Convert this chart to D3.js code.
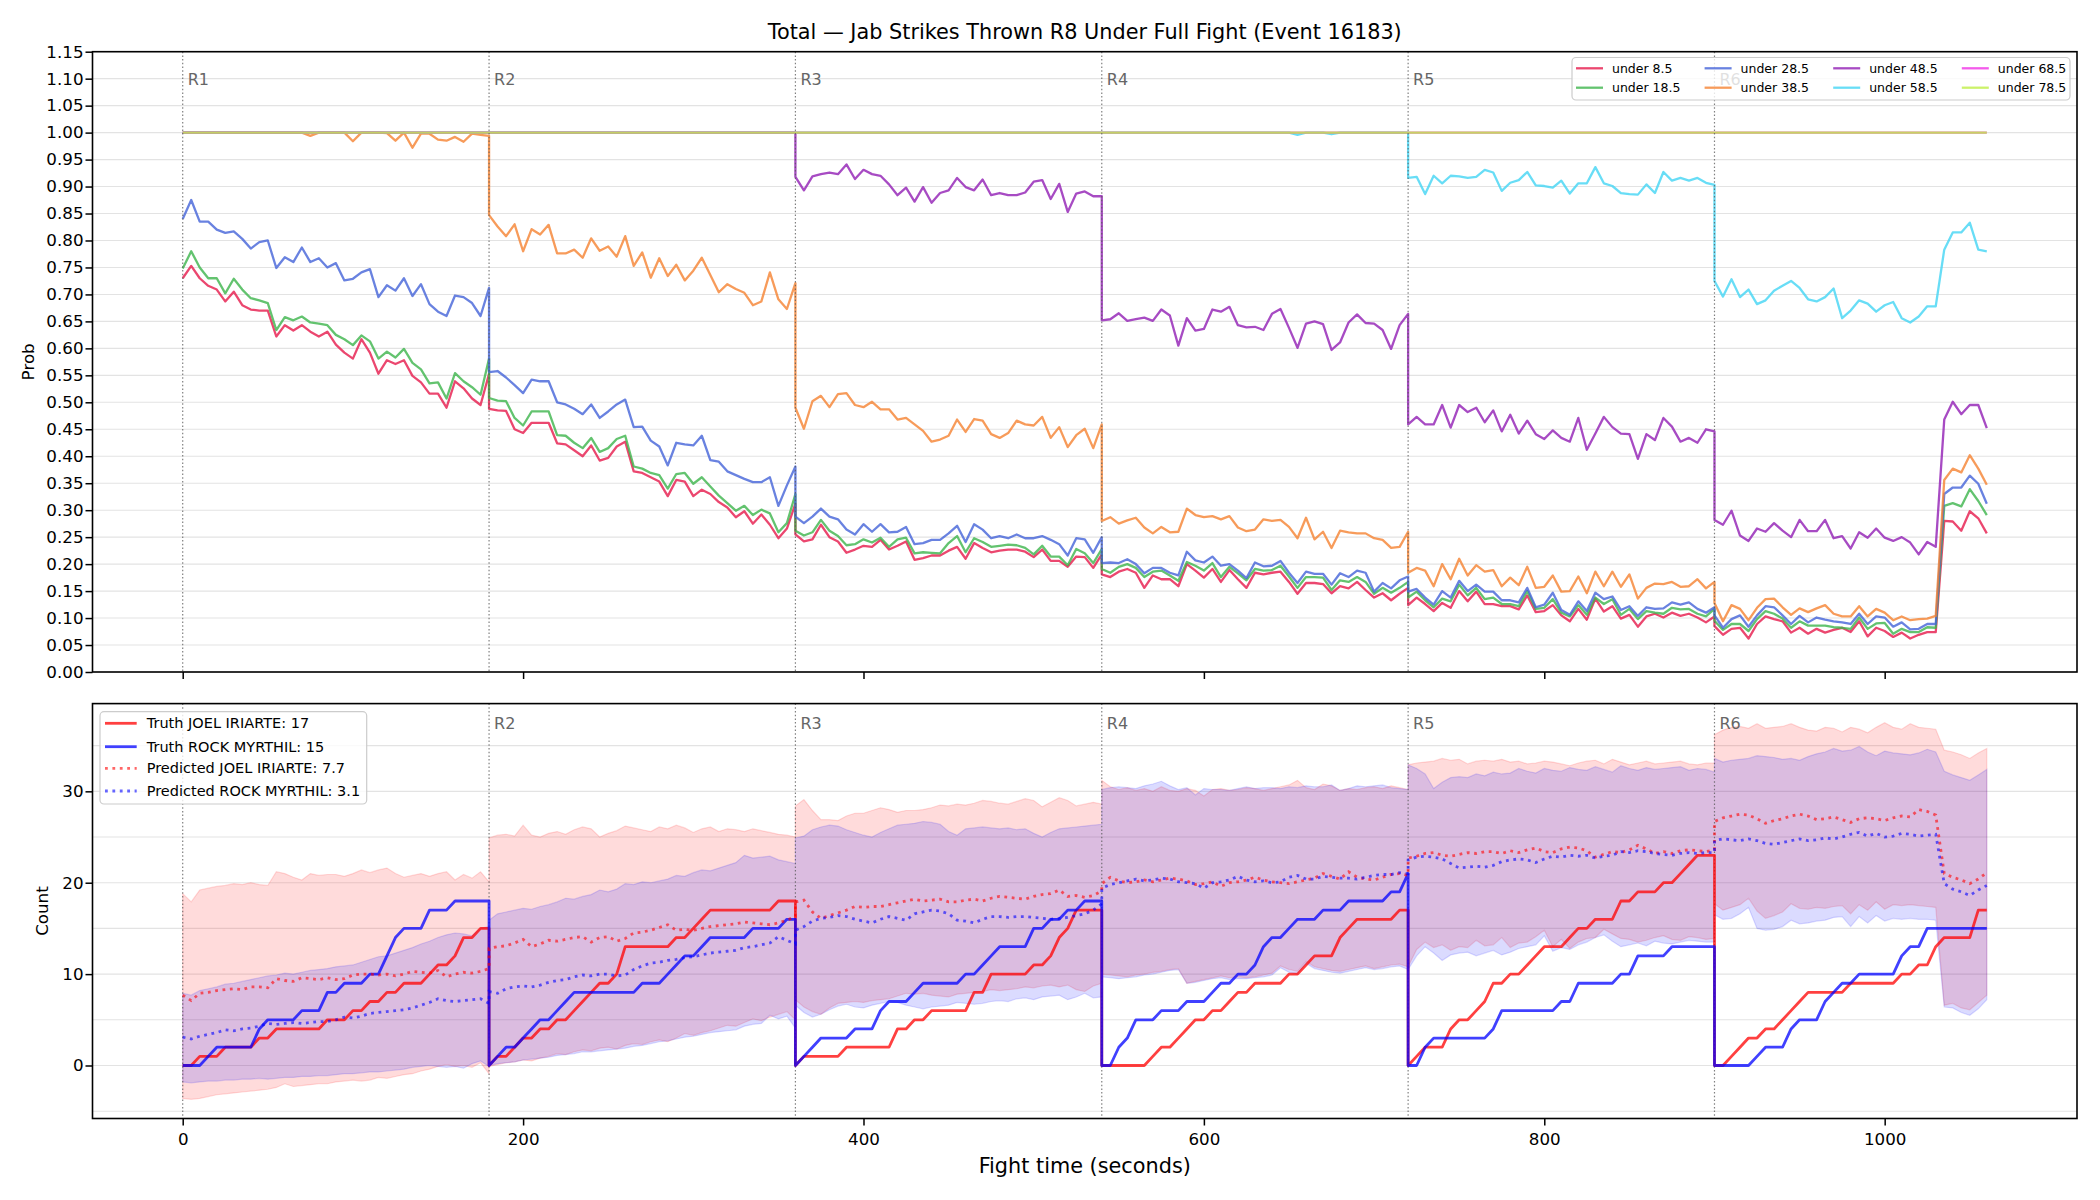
<!DOCTYPE html>
<html>
<head>
<meta charset="utf-8">
<script src="https://d3js.org/d3.v7.min.js"></script>
<style>
  body { margin: 0; background: #fff; }
  svg { font-family: "DejaVu Sans", sans-serif; }
</style>
</head>
<body>
<svg id="chart" width="2100" height="1200"></svg>
<script>
// ---------- data ----------
const roundStarts = [0, 180, 360, 540, 720, 900];
const roundNames = ["R1", "R2", "R3", "R4", "R5", "R6"];
const stepSec = 5;
const xTicks = [0, 200, 400, 600, 800, 1000];
const probTicks = [0, 0.05, 0.1, 0.15, 0.2, 0.25, 0.3, 0.35, 0.4, 0.45, 0.5, 0.55, 0.6, 0.65, 0.7, 0.75, 0.8, 0.85, 0.9, 0.95, 1.0, 1.05, 1.1, 1.15];
const countTicks = [0, 10, 20, 30];
const countGrid = [-5, 0, 5, 10, 15, 20, 25, 30, 35];

const lineNames = ["under 8.5", "under 18.5", "under 28.5", "under 38.5", "under 48.5", "under 58.5", "under 68.5", "under 78.5"];
const lineColors = ["#e6194b", "#3cb44b", "#4363d8", "#f58231", "#911eb4", "#42d4f4", "#f032e6", "#bfef45"];

// probability lines, one array per round (5 s steps)
const under8 = [
  [.73,.753,.73,.716,.709,.687,.705,.68,.672,.67,.67,.622,.643,.633,.643,.631,.622,.631,.607,.592,.581,.617,.592,.553,.578,.571,.578,.549,.537,.516,.516,.49,.539,.526,.507,.495,.553],
  [.488,.485,.484,.45,.443,.462,.462,.462,.424,.422,.411,.4,.42,.392,.397,.418,.427,.372,.369,.361,.353,.326,.356,.353,.326,.338,.33,.315,.305,.287,.298,.275,.292,.273,.248,.266,.312],
  [.255,.242,.246,.273,.25,.242,.221,.227,.234,.232,.245,.227,.234,.242,.208,.211,.216,.216,.225,.232,.21,.239,.23,.222,.225,.227,.227,.223,.213,.227,.206,.206,.195,.214,.213,.193,.218],
  [.181,.176,.186,.191,.184,.156,.179,.172,.172,.159,.2,.188,.175,.191,.167,.189,.172,.156,.184,.181,.184,.186,.167,.145,.165,.165,.163,.146,.159,.155,.167,.152,.138,.146,.133,.145,.156],
  [.124,.138,.126,.113,.128,.119,.15,.131,.149,.126,.126,.122,.122,.116,.142,.111,.113,.124,.105,.094,.117,.097,.136,.112,.122,.099,.106,.084,.103,.108,.101,.11,.104,.108,.101,.092,.103],
  [.085,.069,.08,.082,.062,.089,.103,.098,.094,.073,.082,.071,.08,.073,.078,.082,.074,.094,.066,.082,.076,.065,.073,.062,.069,.074,.074,.28,.279,.262,.298,.285,.257]
];
const under18 = [
  [.748,.78,.75,.73,.73,.702,.729,.709,.693,.689,.684,.634,.658,.652,.659,.648,.646,.643,.625,.617,.606,.624,.613,.581,.594,.583,.599,.573,.561,.535,.537,.507,.554,.539,.528,.514,.581],
  [.508,.503,.502,.471,.457,.483,.483,.483,.439,.438,.425,.415,.434,.408,.415,.432,.438,.381,.377,.369,.365,.34,.367,.369,.349,.361,.344,.327,.313,.299,.308,.291,.301,.294,.259,.276,.33],
  [.262,.253,.259,.282,.262,.252,.235,.237,.246,.24,.249,.232,.246,.249,.22,.222,.221,.22,.239,.252,.222,.248,.241,.232,.234,.236,.235,.23,.218,.234,.214,.214,.198,.228,.22,.202,.228],
  [.191,.184,.195,.2,.193,.176,.186,.188,.179,.169,.204,.197,.188,.202,.176,.195,.183,.17,.191,.188,.189,.197,.177,.156,.176,.176,.175,.152,.17,.167,.176,.167,.145,.156,.147,.156,.167],
  [.138,.149,.133,.12,.136,.131,.162,.142,.156,.135,.138,.126,.126,.122,.15,.117,.119,.135,.11,.103,.124,.106,.138,.126,.135,.106,.117,.098,.113,.11,.108,.119,.116,.117,.108,.103,.117],
  [.095,.078,.089,.089,.076,.098,.113,.108,.099,.082,.094,.086,.086,.086,.083,.082,.08,.101,.08,.09,.091,.071,.08,.074,.074,.083,.082,.308,.313,.307,.339,.317,.291]
];
const under28 = [
  [.84,.875,.835,.835,.82,.814,.817,.803,.785,.797,.8,.749,.769,.76,.787,.76,.767,.75,.758,.726,.729,.741,.747,.695,.717,.707,.73,.697,.719,.682,.668,.66,.698,.695,.684,.66,.712],
  [.556,.558,.546,.532,.517,.542,.539,.539,.5,.496,.488,.478,.496,.471,.483,.496,.505,.454,.455,.429,.418,.383,.425,.422,.42,.438,.393,.39,.372,.365,.358,.352,.352,.361,.308,.346,.381],
  [.288,.276,.288,.303,.288,.283,.264,.255,.274,.26,.274,.259,.26,.269,.237,.239,.245,.245,.257,.271,.241,.274,.264,.248,.252,.248,.255,.248,.248,.252,.245,.237,.216,.248,.246,.221,.25],
  [.202,.203,.202,.209,.2,.183,.193,.193,.184,.179,.223,.207,.203,.214,.197,.2,.188,.174,.203,.196,.197,.206,.184,.165,.186,.182,.182,.162,.183,.176,.188,.184,.149,.165,.155,.17,.177],
  [.149,.154,.138,.125,.15,.138,.169,.15,.162,.149,.149,.133,.133,.129,.156,.12,.125,.147,.115,.106,.131,.113,.147,.135,.14,.115,.122,.104,.12,.117,.118,.129,.125,.129,.117,.11,.12],
  [.105,.082,.098,.105,.084,.105,.122,.12,.105,.089,.104,.092,.101,.097,.094,.092,.089,.108,.089,.103,.101,.084,.092,.079,.08,.089,.089,.33,.342,.342,.364,.349,.312]
];
const under38 = [
  [1,1,1,1,1,1,1,1,1,1,1,1,1,1,1,.994,1,1,1,1,.984,1,1,1,.999,.985,1,.972,.998,.998,.987,.985,.992,.983,.998,.996,.994],
  [.847,.826,.808,.83,.78,.821,.811,.829,.776,.776,.783,.768,.804,.781,.789,.77,.808,.753,.778,.731,.767,.734,.755,.726,.744,.768,.736,.704,.719,.71,.703,.68,.687,.741,.691,.673,.721],
  [.49,.451,.502,.512,.491,.515,.517,.495,.491,.501,.487,.487,.468,.471,.459,.447,.427,.431,.438,.468,.445,.469,.466,.441,.434,.443,.466,.459,.457,.473,.434,.454,.417,.439,.451,.415,.459],
  [.28,.287,.275,.281,.286,.268,.257,.269,.259,.26,.303,.291,.287,.289,.283,.289,.268,.261,.264,.283,.28,.282,.269,.248,.286,.246,.26,.23,.262,.259,.257,.257,.248,.245,.23,.232,.26],
  [.184,.193,.188,.159,.2,.172,.21,.179,.198,.186,.189,.159,.175,.161,.195,.156,.158,.179,.149,.15,.177,.146,.186,.159,.186,.158,.181,.136,.156,.164,.163,.167,.158,.159,.172,.155,.167],
  [.128,.094,.124,.117,.096,.119,.135,.136,.12,.106,.118,.111,.118,.124,.108,.103,.103,.122,.103,.117,.11,.096,.103,.096,.098,.099,.104,.356,.377,.37,.402,.377,.347]
];
const under48 = [
  [1,1,1,1,1,1,1,1,1,1,1,1,1,1,1,1,1,1,1,1,1,1,1,1,1,1,1,1,1,1,1,1,1,1,1,1,1],
  [1,1,1,1,1,1,1,1,1,1,1,1,1,1,1,1,1,1,1,1,1,1,1,1,1,1,1,1,1,1,1,1,1,1,1,1,1],
  [.918,.893,.919,.923,.926,.923,.941,.914,.931,.923,.92,.904,.884,.898,.872,.899,.87,.888,.893,.916,.899,.893,.913,.884,.888,.884,.884,.889,.909,.912,.877,.905,.853,.887,.891,.882,.882],
  [.652,.654,.665,.651,.654,.657,.651,.672,.661,.605,.656,.633,.636,.672,.668,.677,.643,.639,.64,.634,.664,.673,.638,.601,.646,.65,.645,.597,.611,.648,.663,.647,.646,.634,.599,.643,.664],
  [.459,.473,.459,.459,.495,.453,.495,.482,.49,.463,.485,.446,.477,.442,.466,.441,.432,.448,.434,.427,.471,.412,.442,.473,.454,.442,.441,.395,.441,.43,.471,.455,.427,.434,.425,.45,.446],
  [.282,.273,.299,.253,.243,.266,.26,.276,.262,.25,.282,.261,.261,.282,.248,.252,.229,.259,.249,.266,.249,.243,.25,.24,.218,.241,.232,.468,.501,.478,.495,.495,.452]
];
const under58 = [
  [1,1,1,1,1,1,1,1,1,1,1,1,1,1,1,1,1,1,1,1,1,1,1,1,1,1,1,1,1,1,1,1,1,1,1,1,1],
  [1,1,1,1,1,1,1,1,1,1,1,1,1,1,1,1,1,1,1,1,1,1,1,1,1,1,1,1,1,1,1,1,1,1,1,1,1],
  [1,1,1,1,1,1,1,1,1,1,1,1,1,1,1,1,1,1,1,1,1,1,1,1,1,1,1,1,1,1,1,1,1,1,1,1,1],
  [1,1,1,1,1,1,1,1,1,1,1,1,1,1,1,1,1,1,1,1,1,1,1,.996,1,1,1,.997,1,1,1,1,1,1,1,1,1],
  [.916,.918,.886,.92,.906,.92,.919,.916,.918,.931,.926,.892,.907,.912,.927,.902,.901,.898,.911,.887,.906,.906,.936,.906,.901,.888,.886,.885,.904,.888,.927,.911,.916,.911,.916,.907,.903],
  [.725,.696,.728,.695,.709,.682,.689,.707,.716,.725,.712,.691,.687,.695,.711,.656,.67,.689,.683,.668,.68,.686,.656,.648,.659,.678,.678,.783,.815,.815,.833,.783,.78]
];
const under68 = [
  [1,1,1,1,1,1,1,1,1,1,1,1,1,1,1,1,1,1,1,1,1,1,1,1,1,1,1,1,1,1,1,1,1,1,1,1,1],
  [1,1,1,1,1,1,1,1,1,1,1,1,1,1,1,1,1,1,1,1,1,1,1,1,1,1,1,1,1,1,1,1,1,1,1,1,1],
  [1,1,1,1,1,1,1,1,1,1,1,1,1,1,1,1,1,1,1,1,1,1,1,1,1,1,1,1,1,1,1,1,1,1,1,1,1],
  [1,1,1,1,1,1,1,1,1,1,1,1,1,1,1,1,1,1,1,1,1,1,1,1,1,1,1,1,1,1,1,1,1,1,1,1,1],
  [1,1,1,1,1,1,1,1,1,1,1,1,1,1,1,1,1,1,1,1,1,1,1,1,1,1,1,1,1,1,1,1,1,1,1,1,1],
  [1,1,1,1,1,1,1,1,1,1,1,1,1,1,1,1,1,1,1,1,1,1,1,1,1,1,1,1,1,1,1,1,1]
];
const under78 = [
  [1,1,1,1,1,1,1,1,1,1,1,1,1,1,1,1,1,1,1,1,1,1,1,1,1,1,1,1,1,1,1,1,1,1,1,1,1],
  [1,1,1,1,1,1,1,1,1,1,1,1,1,1,1,1,1,1,1,1,1,1,1,1,1,1,1,1,1,1,1,1,1,1,1,1,1],
  [1,1,1,1,1,1,1,1,1,1,1,1,1,1,1,1,1,1,1,1,1,1,1,1,1,1,1,1,1,1,1,1,1,1,1,1,1],
  [1,1,1,1,1,1,1,1,1,1,1,1,1,1,1,1,1,1,1,1,1,1,1,1,1,1,1,1,1,1,1,1,1,1,1,1,1],
  [1,1,1,1,1,1,1,1,1,1,1,1,1,1,1,1,1,1,1,1,1,1,1,1,1,1,1,1,1,1,1,1,1,1,1,1,1],
  [1,1,1,1,1,1,1,1,1,1,1,1,1,1,1,1,1,1,1,1,1,1,1,1,1,1,1,1,1,1,1,1,1]
];

// count panel
const fighterNames = ["JOEL IRIARTE", "ROCK MYRTHIL"];
const truthFinal = [17, 15];
const predictedStart = [7.7, 3.1];

const truthJoel = [
  [0,0,1,1,1,2,2,2,2,3,3,4,4,4,4,4,4,5,5,5,6,6,7,7,8,8,9,9,9,10,11,11,12,14,14,15,15],
  [0,1,1,2,3,3,4,4,5,5,6,7,8,9,9,10,13,13,13,13,13,13,14,14,15,16,17,17,17,17,17,17,17,17,18,18,18],
  [0,1,1,1,1,1,2,2,2,2,2,2,4,4,5,5,6,6,6,6,6,8,8,10,10,10,10,10,11,11,12,14,15,17,17,17,17],
  [0,0,0,0,0,0,1,2,2,3,4,5,5,6,6,7,8,8,9,9,9,9,10,10,11,12,12,12,14,15,16,16,16,16,16,17,17],
  [0,1,2,2,2,4,5,5,6,7,9,9,10,10,11,12,13,13,13,14,15,15,16,16,16,18,18,19,19,19,20,20,21,22,23,23,23],
  [0,0,1,2,3,3,4,4,5,6,7,8,8,8,8,8,9,9,9,9,9,9,10,10,11,11,13,14,14,14,14,17,17]
];
const truthRock = [
  [0,0,0,1,2,2,2,2,2,4,5,5,5,5,6,6,6,8,8,9,9,9,10,10,12,14,15,15,15,17,17,17,18,18,18,18,18],
  [0,1,2,2,3,4,5,5,6,7,8,8,8,8,8,8,8,8,9,9,9,10,11,12,12,13,14,14,14,14,14,15,15,15,15,16,16],
  [0,1,2,3,3,3,3,4,4,4,6,7,7,7,8,9,9,9,9,9,10,10,11,12,13,13,13,13,15,15,16,16,17,17,18,18,18],
  [0,0,2,3,5,5,5,6,6,6,7,7,7,8,9,9,10,10,11,13,14,14,15,16,16,16,17,17,17,18,18,18,18,18,19,19,21],
  [0,0,2,3,3,3,3,3,3,3,4,6,6,6,6,6,6,6,7,7,9,9,9,9,9,10,10,12,12,12,12,13,13,13,13,13,13],
  [0,0,0,0,0,1,2,2,2,4,5,5,5,7,8,9,9,10,10,10,10,10,12,13,13,15,15,15,15,15,15,15,15]
];
const predJoel = [
  [7.7,7.1,7.9,8.0,8.2,8.3,8.4,8.3,8.6,8.6,8.5,9.5,9.3,9.2,9.6,9.5,9.4,9.6,9.4,9.5,9.9,10.0,10.0,9.9,10.0,9.8,10.0,10.3,10.2,10.1,10.4,9.7,10.0,10.2,10.1,10.3,10.6],
  [12.8,13.0,13.1,13.4,13.8,13.0,13.3,13.7,13.6,13.8,14.0,14.1,13.5,14.0,14.1,13.6,13.9,14.5,14.6,14.8,15.1,15.4,14.8,14.9,14.8,15.0,15.2,15.3,15.4,15.5,15.7,15.6,15.5,15.4,15.6,15.9,16.3],
  [17.9,18.1,16.8,16.1,16.4,16.7,17.0,17.4,17.3,17.4,17.4,17.6,17.8,18.0,18.2,18.0,18.1,18.2,17.9,17.9,18.1,18.2,18.0,18.3,18.5,18.4,18.3,18.2,18.5,18.7,18.8,19.2,18.5,18.6,18.4,18.6,19.1],
  [19.9,20.6,20.2,20.0,20.1,20.3,20.1,20.3,20.5,20.4,20.2,19.8,19.9,20.1,19.6,20.0,20.1,20.3,20.6,20.3,20.1,20.0,19.9,20.1,20.3,20.5,21.0,20.7,20.4,21.2,20.6,20.4,20.3,20.6,20.9,21.0,20.8],
  [22.7,22.9,23.2,23.3,23.0,22.9,23.1,23.3,23.2,23.4,23.4,23.2,23.5,23.3,23.6,23.8,23.4,23.3,23.7,23.9,23.8,23.5,22.8,23.1,23.4,23.3,23.6,24.1,23.7,23.2,23.4,23.2,23.5,23.6,23.5,23.4,23.6],
  [26.7,27.1,27.3,27.5,27.4,27.0,26.5,26.8,27.0,27.3,27.5,27.3,26.9,27.0,27.2,26.9,26.6,27.0,27.1,27.0,26.8,27.1,27.3,27.2,28.0,27.8,27.4,21.0,20.6,20.3,19.9,20.4,21.1]
];
const predRock = [
  [3.1,2.9,3.2,3.4,3.6,3.9,3.8,4.0,4.1,4.3,4.6,4.5,4.6,4.7,4.6,4.7,4.8,4.8,5.0,5.3,5.2,5.4,5.7,5.8,5.9,6.0,6.1,6.3,6.6,6.9,7.3,7.1,7.0,7.1,7.2,7.3,6.8],
  [8.1,7.9,8.4,8.6,8.7,8.6,8.8,9.1,9.3,9.4,9.7,9.9,9.8,10.0,10.0,9.8,9.9,10.5,10.9,11.2,11.3,11.5,11.6,11.8,11.9,12.1,12.3,12.4,12.5,12.6,12.9,13.0,13.2,13.4,14.1,13.7,13.3],
  [14.8,15.2,15.8,16.1,16.2,16.4,16.3,16.0,15.8,15.6,16.0,16.3,16.1,15.9,16.6,16.8,17.0,16.9,16.6,15.9,15.8,15.6,16.0,16.3,16.3,16.2,16.3,16.3,16.2,16.1,16.0,16.1,16.2,16.4,16.6,17.0,17.7],
  [19.4,19.8,20.0,20.2,20.4,20.2,20.3,20.5,20.4,20.1,20.0,19.9,19.4,20.0,20.1,20.3,20.7,20.3,20.1,20.2,20.0,20.1,20.6,20.8,20.4,20.4,20.7,20.6,20.5,20.5,20.4,20.6,20.8,20.9,20.9,21.1,21.0],
  [22.5,22.8,22.9,22.8,22.6,22.1,21.6,21.7,21.8,21.7,21.9,22.3,22.5,22.6,22.5,22.2,22.6,22.9,22.8,23.0,22.9,23.0,22.7,22.9,23.0,23.4,23.3,23.5,23.4,23.2,23.1,23.0,23.2,23.3,23.2,23.3,23.3],
  [24.6,24.8,24.7,24.6,24.8,24.6,24.3,24.2,24.4,24.6,24.8,24.6,24.7,24.9,24.8,25.0,25.3,25.5,25.1,25.4,25.0,25.1,25.4,25.3,25.1,25.2,25.3,19.9,19.3,19.0,18.6,19.2,19.7]
];
const bandJoelLow = [
  [-3.6,-3.7,-3.6,-3.4,-3.2,-3.1,-3.0,-2.9,-2.8,-2.7,-2.6,-2.4,-2.0,-2.3,-2.2,-2.1,-2.0,-2.0,-1.8,-1.7,-1.6,-1.7,-1.6,-1.3,-1.4,-1.2,-1.0,-0.9,-0.6,-0.4,-0.1,0.1,-0.1,0.0,-0.2,0.3,-0.9],
  [-0.1,0.1,0.3,0.4,0.6,0.5,0.8,1.0,1.3,1.2,1.5,1.7,1.6,1.9,2.0,1.8,2.2,2.4,2.3,2.6,2.8,2.6,3.0,3.5,3.3,3.6,3.8,4.1,4.4,4.3,4.7,5.1,4.9,5.3,5.6,5.9,5.0],
  [7.2,6.4,5.9,5.6,6.3,6.8,6.9,7.0,6.9,7.1,7.2,7.3,7.6,7.9,7.8,7.9,7.7,7.6,7.5,7.8,7.9,8.0,8.1,8.3,8.2,8.3,8.4,8.6,8.5,8.7,8.8,8.6,8.8,8.3,8.1,8.7,9.0],
  [10.0,9.9,9.8,9.7,9.9,10.0,10.2,10.3,10.5,10.6,9.0,9.2,9.4,9.6,9.8,9.6,9.7,9.6,9.7,9.9,10.1,10.9,10.5,10.3,11.4,10.8,10.6,10.4,10.3,10.5,10.7,10.9,10.6,10.8,11.0,11.1,10.8],
  [10.8,12.7,13.5,12.9,13.2,12.6,13.0,12.9,13.7,13.1,13.2,14.0,12.9,13.4,13.5,14.1,14.8,13.0,13.8,12.8,13.5,13.9,14.0,14.9,14.4,13.9,13.8,13.5,13.7,14.0,14.2,13.8,13.7,14.1,14.0,13.8,13.9],
  [17.7,17.0,17.3,17.6,18.3,16.9,16.1,16.4,16.8,17.7,17.2,17.1,17.3,17.2,17.4,17.5,16.6,17.6,17.0,17.9,17.1,17.6,17.5,17.6,17.5,17.4,17.3,6.6,6.8,6.3,6.1,6.9,7.7]
];
const bandJoelHigh = [
  [18.8,17.9,19.2,19.4,19.6,19.7,19.9,19.8,20.0,19.8,19.7,21.2,21.0,20.6,20.3,21.0,20.8,20.9,20.9,20.7,21.0,21.4,21.1,21.4,21.6,21.0,20.6,20.8,21.0,20.7,21.0,21.2,20.3,20.9,20.5,21.2,20.1],
  [24.9,25.2,25.3,25.1,26.3,25.2,25.0,25.4,25.6,25.3,25.8,26.1,25.9,25.0,25.4,25.7,26.2,26.0,25.8,25.6,26.1,25.9,26.3,26.0,25.5,25.9,26.1,25.6,25.9,25.8,25.6,25.9,25.7,25.5,25.3,25.2,25.0],
  [28.4,29.1,27.9,26.9,26.9,26.8,27.3,27.6,27.6,27.9,28.2,28.0,27.7,27.9,27.9,28.0,28.2,28.5,28.4,28.6,28.5,28.7,29.0,28.9,28.7,28.6,28.9,29.2,29.0,28.3,28.8,29.3,29.0,28.4,28.6,28.8,28.6],
  [31.2,30.5,30.2,30.4,30.1,30.3,30.0,30.5,30.1,30.0,30.3,30.1,29.5,30.2,30.3,30.1,30.2,30.4,30.3,30.1,30.3,30.5,30.7,31.2,30.4,30.2,30.8,30.6,30.1,30.3,30.2,30.4,30.5,30.3,30.6,30.4,30.2],
  [32.9,33.1,33.2,33.3,33.6,33.4,33.5,33.0,33.3,33.4,33.3,33.5,33.2,33.3,33.0,33.1,33.3,33.2,33.0,32.8,33.1,33.3,33.4,33.0,33.5,33.2,32.9,33.1,33.3,33.0,33.1,33.2,33.3,33.0,32.9,33.1,33.1],
  [36.2,36.7,37.0,37.1,36.9,37.4,36.9,37.0,37.1,37.4,37.0,36.7,36.6,37.0,36.9,36.5,37.0,36.8,36.4,37.0,37.5,37.0,36.8,37.4,37.0,36.9,36.8,34.5,34.3,34.0,33.6,34.2,34.7]
];
const bandRockLow = [
  [-1.8,-1.9,-1.8,-1.7,-1.7,-1.6,-1.6,-1.5,-1.5,-1.4,-1.5,-1.4,-1.3,-1.3,-1.2,-1.2,-1.1,-1.1,-1.0,-0.9,-0.9,-0.8,-0.7,-0.7,-0.6,-0.5,-0.4,-0.2,-0.1,0.0,-0.1,-0.2,-0.1,-0.3,0.2,0.5,-0.1],
  [0.0,0.2,0.3,0.4,0.6,0.7,0.8,0.9,1.1,1.2,1.3,1.5,1.5,1.6,1.7,1.8,1.9,2.1,2.2,2.4,2.6,2.7,2.9,3.1,3.2,3.4,3.6,3.7,3.8,3.9,4.3,4.5,4.6,5.5,5.1,5.4,4.1],
  [6.6,5.8,5.3,5.6,6.1,6.5,6.7,6.4,6.3,6.6,6.8,7.0,6.9,6.6,6.4,6.2,6.4,6.5,6.6,6.9,6.8,6.7,6.8,7.0,7.1,7.0,7.3,7.4,7.2,7.5,7.6,7.7,7.2,7.5,7.9,7.4,7.5],
  [9.7,9.6,9.5,9.6,9.7,9.9,10.0,10.2,10.4,10.5,9.0,9.1,9.3,9.5,9.6,9.4,9.5,9.5,9.6,9.7,9.9,10.7,10.2,10.0,11.2,10.6,10.4,10.2,10.1,10.3,10.5,10.7,10.5,10.6,10.8,10.9,10.5],
  [10.5,12.0,13.0,12.3,11.5,12.1,12.3,12.4,12.0,12.3,12.6,12.1,12.4,12.8,13.0,13.2,14.2,12.5,12.9,12.7,13.2,13.5,14.0,14.3,13.6,13.0,13.2,13.4,13.1,13.6,13.4,13.3,13.5,13.7,13.6,13.5,13.5],
  [16.5,16.0,16.1,16.6,17.3,15.0,14.8,14.9,15.2,15.9,15.5,15.6,15.8,15.9,16.2,16.3,15.2,16.3,15.6,16.4,15.8,16.1,16.0,16.1,16.0,16.0,15.9,6.4,6.3,5.8,5.5,6.2,7.2]
];
const bandRockHigh = [
  [7.9,7.7,8.2,8.4,8.6,8.9,9.0,9.2,9.4,9.6,9.8,9.9,10.1,10.0,10.2,10.4,10.5,10.6,10.8,10.9,11.0,11.3,11.6,11.9,12.0,12.3,12.6,12.9,13.3,13.6,14.0,14.3,14.5,14.4,14.2,15.0,15.2],
  [15.9,16.6,16.8,17.0,17.2,17.1,17.4,17.6,17.9,18.3,18.2,18.5,18.7,19.2,19.0,19.3,19.9,19.8,20.1,20.0,20.2,20.4,20.8,20.7,21.1,21.4,21.3,21.6,21.9,22.2,23.0,22.7,22.8,22.9,22.5,22.3,22.1],
  [24.9,25.1,25.8,26.1,26.3,26.2,25.8,25.5,25.2,25.0,25.5,25.9,26.3,26.4,26.5,26.7,26.6,26.4,25.6,25.2,25.9,26.0,26.1,26.0,25.9,26.0,25.8,25.9,25.4,25.0,25.5,25.9,26.0,26.1,26.2,26.3,26.4],
  [30.2,30.4,30.5,30.4,30.3,30.6,30.8,31.1,30.6,30.2,30.4,29.6,30.3,30.2,30.2,30.1,30.3,30.5,30.3,30.4,30.4,30.3,30.5,30.4,30.6,30.5,30.5,30.7,30.1,30.3,30.6,30.5,30.6,30.7,30.4,30.3,30.2],
  [32.9,32.5,31.9,30.3,31.0,31.5,31.6,31.5,31.9,31.7,32.1,31.9,32.0,32.5,32.2,32.0,32.5,32.3,32.2,32.6,32.4,32.3,32.7,32.4,32.1,32.8,32.5,32.3,32.6,32.4,32.5,32.6,32.7,32.3,32.5,32.4,32.1],
  [33.6,33.2,33.4,33.5,33.6,33.9,33.8,33.7,33.5,33.6,33.4,33.8,34.1,34.3,34.7,34.4,34.5,34.9,34.3,33.9,34.4,34.2,34.1,34.0,34.2,34.6,34.3,32.2,31.8,31.5,31.2,31.8,32.4]
];

// ---------- drawing ----------
const svg = d3.select("#chart");
const W = 2100, H = 1200;
const left = 92.5, right = 2077;
const top1 = 51.7, bottom1 = 672;
const top2 = 703.6, bottom2 = 1118.5;

const x = d3.scaleLinear().domain([-53, 1113]).range([left, right]);
const yProb = d3.scaleLinear().domain([0, 1.15]).range([bottom1, top1]);
const yCount = d3.scaleLinear().domain([-5.8, 39.6]).range([bottom2, top2]);

// turn per-round arrays into one list of {t, v}
function toPoints(rounds) {
    return rounds.flatMap((vals, r) => vals.map((v, i) => ({t: roundStarts[r] + i * stepSec, v: v})));
}
function toBand(lows, highs) {
    return lows.flatMap((vals, r) => vals.map((v, i) => ({t: roundStarts[r] + i * stepSec, lo: v, hi: highs[r][i]})));
}

svg.append("rect").attr("width", W).attr("height", H).attr("fill", "#fff");

// grid
const grid = svg.append("g");
probTicks.forEach(function(d) {
    grid.append("line").attr("x1", left).attr("x2", right)
        .attr("y1", yProb(d)).attr("y2", yProb(d))
        .attr("stroke", "#e3e3e3").attr("stroke-width", 1.1);
});
countGrid.forEach(function(d) {
    grid.append("line").attr("x1", left).attr("x2", right)
        .attr("y1", yCount(d)).attr("y2", yCount(d))
        .attr("stroke", "#e3e3e3").attr("stroke-width", 1.1);
});

// ---- top panel: probability lines
const probLine = d3.line().x(d => x(d.t)).y(d => yProb(d.v));
const allLines = [under8, under18, under28, under38, under48, under58, under68, under78];
allLines.forEach(function(rounds, i) {
    svg.append("path")
        .attr("d", probLine(toPoints(rounds)))
        .attr("fill", "none")
        .attr("stroke", lineColors[i])
        .attr("stroke-opacity", 0.8)
        .attr("stroke-width", 2.3)
        .attr("stroke-linejoin", "round");
});

// ---- bottom panel: bands, truth, predicted
const band = d3.area().x(d => x(d.t)).y0(d => yCount(d.lo)).y1(d => yCount(d.hi));
const countLine = d3.line().x(d => x(d.t)).y(d => yCount(d.v));

const bands = [toBand(bandJoelLow, bandJoelHigh), toBand(bandRockLow, bandRockHigh)];
const truths = [truthJoel, truthRock];
const preds = [predJoel, predRock];
const fighterColors = ["#ff0000", "#0000ff"];

bands.forEach(function(b, i) {
    svg.append("path")
        .attr("d", band(b))
        .attr("fill", fighterColors[i]).attr("fill-opacity", 0.14)
        .attr("stroke", fighterColors[i]).attr("stroke-opacity", 0.14)
        .attr("stroke-width", 1.2);
});

// round dividers
[[top1, bottom1], [top2, bottom2]].forEach(function(p) {
    roundStarts.forEach(function(t) {
        svg.append("line")
            .attr("x1", x(t)).attr("x2", x(t)).attr("y1", p[0]).attr("y2", p[1])
            .attr("stroke", "#555").attr("stroke-opacity", 0.75)
            .attr("stroke-width", 1.2).attr("stroke-dasharray", "1.5,2.2");
    });
});

truths.forEach(function(rounds, i) {
    svg.append("path")
        .attr("d", countLine(toPoints(rounds)))
        .attr("fill", "none")
        .attr("stroke", fighterColors[i]).attr("stroke-opacity", 0.75)
        .attr("stroke-width", 2.8).attr("stroke-linejoin", "round");
});
preds.forEach(function(rounds, i) {
    svg.append("path")
        .attr("d", countLine(toPoints(rounds)))
        .attr("fill", "none")
        .attr("stroke", fighterColors[i]).attr("stroke-opacity", 0.6)
        .attr("stroke-width", 2.8).attr("stroke-dasharray", "2.8,4.6");
});

// round labels
roundStarts.forEach(function(t, i) {
    svg.append("text").attr("x", x(t) + 5).attr("y", top1 + 28)
        .attr("dominant-baseline", "central")
        .attr("font-size", 16).attr("fill", "#666").text(roundNames[i]);
    if (i > 0) {
        svg.append("text").attr("x", x(t) + 5).attr("y", top2 + 20)
            .attr("dominant-baseline", "central")
            .attr("font-size", 16).attr("fill", "#666").text(roundNames[i]);
    }
});

// axes
function styleAxis(g) {
    g.select(".domain").remove();
    g.attr("font-family", "DejaVu Sans, sans-serif").attr("font-size", 16.7);
    g.selectAll(".tick line").attr("stroke", "#000").attr("stroke-width", 1.5);
    g.selectAll(".tick text").attr("fill", "#000");
}
svg.append("g").attr("transform", "translate(" + left + ",0)")
    .call(d3.axisLeft(yProb).tickValues(probTicks).tickFormat(d3.format(".2f")).tickSize(7).tickPadding(2))
    .call(styleAxis);
svg.append("g").attr("transform", "translate(" + left + ",0)")
    .call(d3.axisLeft(yCount).tickValues(countTicks).tickFormat(d3.format("d")).tickSize(7).tickPadding(2))
    .call(styleAxis);
svg.append("g").attr("transform", "translate(0," + bottom1 + ")")
    .call(d3.axisBottom(x).tickValues(xTicks).tickFormat("").tickSize(7))
    .call(styleAxis);
svg.append("g").attr("transform", "translate(0," + bottom2 + ")")
    .call(d3.axisBottom(x).tickValues(xTicks).tickFormat(d3.format("d")).tickSize(7).tickPadding(8))
    .call(styleAxis);

// frames
[[top1, bottom1], [top2, bottom2]].forEach(function(p) {
    svg.append("rect").attr("x", left).attr("y", p[0])
        .attr("width", right - left).attr("height", p[1] - p[0])
        .attr("fill", "none").attr("stroke", "#000").attr("stroke-width", 1.6);
});

// titles and labels
svg.append("text").attr("x", (left + right) / 2).attr("y", 38.5)
    .attr("text-anchor", "middle").attr("font-size", 20.8)
    .text("Total \u2014 Jab Strikes Thrown R8 Under Full Fight (Event 16183)");
svg.append("text").attr("x", (left + right) / 2).attr("y", 1172.5)
    .attr("text-anchor", "middle").attr("font-size", 20.8)
    .text("Fight time (seconds)");
svg.append("text").attr("transform", "translate(28," + ((top1 + bottom1) / 2) + ") rotate(-90)")
    .attr("text-anchor", "middle").attr("dominant-baseline", "central").attr("font-size", 16.7)
    .text("Prob");
svg.append("text").attr("transform", "translate(41.5," + ((top2 + bottom2) / 2) + ") rotate(-90)")
    .attr("text-anchor", "middle").attr("dominant-baseline", "central").attr("font-size", 16.7)
    .text("Count");

// top legend (4 columns x 2 rows)
const leg1 = svg.append("g");
leg1.append("rect").attr("x", 1572).attr("y", 57.5).attr("width", 498).attr("height", 42.5)
    .attr("rx", 4).attr("fill", "#fff").attr("fill-opacity", 0.8)
    .attr("stroke", "#ccc").attr("stroke-width", 1.2);
lineNames.forEach(function(name, i) {
    const col = Math.floor(i / 2), row = i % 2;
    const hx = 1576 + col * 128.6;
    const hy = row === 0 ? 68.3 : 87.7;
    leg1.append("line").attr("x1", hx).attr("x2", hx + 27).attr("y1", hy).attr("y2", hy)
        .attr("stroke", lineColors[i]).attr("stroke-opacity", 0.8).attr("stroke-width", 2.3);
    leg1.append("text").attr("x", hx + 36).attr("y", hy)
        .attr("dominant-baseline", "central").attr("font-size", 12.5).text(name);
});

// bottom legend
const leg2 = svg.append("g");
leg2.append("rect").attr("x", 100).attr("y", 711.7).attr("width", 266.7).attr("height", 92.3)
    .attr("rx", 4).attr("fill", "#fff").attr("fill-opacity", 0.8)
    .attr("stroke", "#ccc").attr("stroke-width", 1.2);
const legRows = [723.3, 746.7, 768.3, 791];
fighterNames.forEach(function(name, i) {
    leg2.append("line").attr("x1", 105).attr("x2", 136.7).attr("y1", legRows[i]).attr("y2", legRows[i])
        .attr("stroke", fighterColors[i]).attr("stroke-opacity", 0.75).attr("stroke-width", 2.8);
    leg2.append("text").attr("x", 146.7).attr("y", legRows[i])
        .attr("dominant-baseline", "central").attr("font-size", 14.5)
        .text("Truth " + name + ": " + truthFinal[i]);
    leg2.append("line").attr("x1", 105).attr("x2", 136.7).attr("y1", legRows[i + 2]).attr("y2", legRows[i + 2])
        .attr("stroke", fighterColors[i]).attr("stroke-opacity", 0.6).attr("stroke-width", 2.8)
        .attr("stroke-dasharray", "2.8,4.6");
    leg2.append("text").attr("x", 146.7).attr("y", legRows[i + 2])
        .attr("dominant-baseline", "central").attr("font-size", 14.5)
        .text("Predicted " + name + ": " + predictedStart[i]);
});
</script>
</body>
</html>
